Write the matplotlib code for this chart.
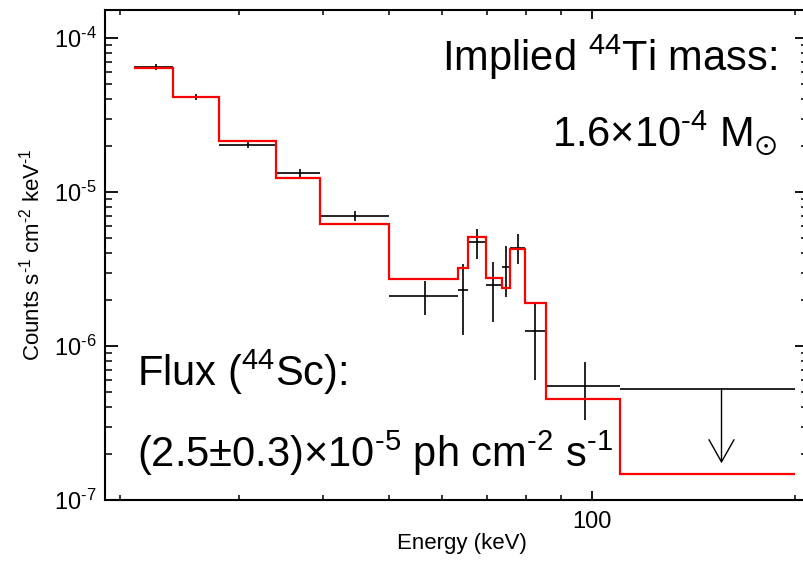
import numpy as np
import matplotlib
matplotlib.use("Agg")
import matplotlib.pyplot as plt
from matplotlib.ticker import NullFormatter, LogLocator

plt.rcParams['font.family'] = ['Liberation Sans', 'DejaVu Sans']
plt.rcParams['mathtext.fontset'] = 'custom'
plt.rcParams['mathtext.rm'] = 'Liberation Sans'
plt.rcParams['mathtext.it'] = 'Liberation Sans:italic'
plt.rcParams['mathtext.fallback'] = 'stixsans'
plt.rcParams['mathtext.default'] = 'regular'

HY = '\u2010'  #* plain hyphen, mathtext would turn '-' into a long minus

#* model (red step line): bin edges in keV and flux per bin
model_edges = [21.0, 24.0, 28.0, 34.0, 39.5, 50.0, 63.3, 65.5, 69.7, 73.6,
               75.6, 79.6, 85.5, 110.0, 200.0]
model_flux = [6.4e-5, 4.16e-5, 2.14e-5, 1.23e-5, 6.17e-6, 2.72e-6, 3.22e-6,
              5.13e-6, 2.78e-6, 2.37e-6, 4.26e-6, 1.89e-6, 4.53e-7, 1.47e-7]

#* data points (black crosses)
e_mid = [22.6, 25.9, 30.9, 36.9, 44.6, 56.6, 64.5, 67.6, 71.4, 74.6, 77.8, 82.5, 97.6]
e_lo = [21.0, 24.0, 28.0, 34.0, 39.5, 50.0, 63.3, 65.5, 69.7, 73.6, 75.6, 79.6, 85.5]
e_hi = [24.0, 28.0, 34.0, 39.5, 50.0, 63.3, 65.5, 69.7, 73.6, 75.6, 79.6, 85.5, 110.0]
flux = [6.45e-5, 4.16e-5, 2.01e-5, 1.32e-5, 6.99e-6, 2.11e-6, 2.31e-6, 4.76e-6,
        2.49e-6, 3.27e-6, 4.31e-6, 1.25e-6, 5.52e-7]
flux_lo = [6.17e-5, 3.98e-5, 1.92e-5, 1.25e-5, 6.48e-6, 1.59e-6, 1.18e-6, 3.66e-6,
           1.43e-6, 2.09e-6, 3.41e-6, 6.01e-7, 3.31e-7]
flux_hi = [6.75e-5, 4.35e-5, 2.10e-5, 1.40e-5, 7.53e-6, 2.64e-6, 3.41e-6, 5.75e-6,
           3.53e-6, 4.46e-6, 5.31e-6, 1.89e-6, 7.84e-7]

#* upper limit in the last bin
ul_lo, ul_hi = 110.0, 200.0
ul_mid = 155.6
ul_flux = 5.26e-7
ul_tip = 1.73e-7

xtick_vals = [100]
xtick_labels = ['100']
ytick_vals = [1e-7, 1e-6, 1e-5, 1e-4]
ytick_exps = ['7', '6', '5', '4']

e_mid = np.array(e_mid)
flux = np.array(flux)

fig = plt.figure(figsize=(8.04, 5.69), dpi=100)
ax = fig.add_axes([105/804, 69/569, 703/804, 490/569])
ax.set_xscale('log')
ax.set_yscale('log')
ax.set_xlim(19.0, 209.0)
ax.set_ylim(1e-7, 1.52e-4)

ax.stairs(model_flux, model_edges, baseline=None, color='red', lw=1.6, zorder=3)
ax.errorbar(e_mid, flux,
            xerr=[e_mid - np.array(e_lo), np.array(e_hi) - e_mid],
            yerr=[flux - np.array(flux_lo), np.array(flux_hi) - flux],
            fmt='none', ecolor='black', elinewidth=1.2, capsize=0, zorder=2)
ax.hlines(ul_flux, ul_lo, ul_hi, color='black', lw=1.2)
ax.annotate('', xy=(ul_mid, ul_tip), xytext=(ul_mid, ul_flux),
            arrowprops=dict(arrowstyle='->, head_length=1.6, head_width=0.9',
                            color='black', lw=1.0, shrinkA=0, shrinkB=0))

for s in ax.spines.values():
    s.set_linewidth(1.5)

ax.set_xticks(xtick_vals)
ax.set_xticklabels(xtick_labels)
ax.set_yticks(ytick_vals)
ax.set_yticklabels(['10$^{' + HY + e + '}$' for e in ytick_exps])
ax.xaxis.set_minor_locator(LogLocator(base=10, subs=np.arange(2, 10)))
ax.xaxis.set_minor_formatter(NullFormatter())
ax.yaxis.set_minor_locator(LogLocator(base=10, subs=np.arange(2, 10)))
ax.yaxis.set_minor_formatter(NullFormatter())

ax.tick_params(axis='x', which='major', direction='in', length=6.5, width=1.3,
               top=True, bottom=True, labelsize=17, pad=8)
ax.tick_params(axis='x', which='minor', direction='in', length=3.5, width=1.1,
               top=True, bottom=True)
ax.tick_params(axis='y', which='major', direction='in', length=9.5, width=1.3,
               left=True, right=True, labelsize=17, pad=6)
ax.tick_params(axis='y', which='minor', direction='in', length=5, width=1.1,
               left=True, right=True)

ax.set_xlabel('Energy (keV)', fontsize=16)
ax.xaxis.set_label_coords((462 - 105) / 703, (500 - 533) / 490)
ax.set_ylabel('Counts s$^{' + HY + '1}$ cm$^{' + HY + '2}$ keV$^{' + HY + '1}$',
              fontsize=16)
ax.yaxis.set_label_coords((45 - 105) / 703, 0.5)

big = 30
ax.text((777 - 105) / 703, (500 - 71) / 490, r'Implied $^{44}$Ti mass:',
        transform=ax.transAxes, ha='right', va='baseline', fontsize=big)
ax.text((777 - 105) / 703, (500 - 147) / 490,
        '1.6×10$^{' + HY + '4}$ M$_{\\odot}$',
        transform=ax.transAxes, ha='right', va='baseline', fontsize=big)
ax.text((137 - 105) / 703, (500 - 386) / 490, r'Flux ($^{44}$Sc):',
        transform=ax.transAxes, ha='left', va='baseline', fontsize=big)
ax.text((137 - 105) / 703, (500 - 467) / 490,
        '(2.5±0.3)×10$^{' + HY + '5}$ ph cm$^{' + HY + '2}$ s$^{' + HY + '1}$',
        transform=ax.transAxes, ha='left', va='baseline', fontsize=big)

fig.savefig('out.png', dpi=100)
